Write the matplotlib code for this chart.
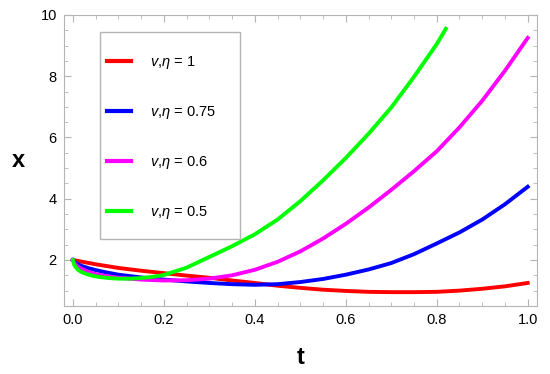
import numpy as np
import matplotlib.pyplot as plt
from matplotlib.ticker import MultipleLocator
from matplotlib.patches import Rectangle

plt.rcParams['font.family'] = ['Liberation Sans', 'DejaVu Sans']
plt.rcParams['mathtext.fontset'] = 'custom'
plt.rcParams['mathtext.it'] = 'Liberation Sans:italic'
plt.rcParams['mathtext.rm'] = 'Liberation Sans'

# valores
t_red = [0.0, 0.05, 0.1, 0.15, 0.2, 0.25, 0.3, 0.35, 0.4, 0.45, 0.5, 0.55, 0.6, 0.65, 0.7, 0.75, 0.8, 0.85, 0.9, 0.95, 1.0]
x_red = [2.0, 1.86, 1.74, 1.65, 1.57, 1.49, 1.42, 1.33, 1.25, 1.16, 1.09, 1.03, 0.99, 0.96, 0.95, 0.95, 0.96, 1.0, 1.06, 1.14, 1.25]

t_blue = [0.0, 0.005, 0.01, 0.02, 0.035, 0.05, 0.075, 0.1, 0.15, 0.2, 0.25, 0.3, 0.35, 0.4, 0.45, 0.5, 0.55, 0.6, 0.65, 0.7, 0.75, 0.8, 0.85, 0.9, 0.95, 1.0]
x_blue = [2.0, 1.92, 1.87, 1.8, 1.73, 1.67, 1.59, 1.52, 1.43, 1.36, 1.3, 1.25, 1.21, 1.19, 1.21, 1.28, 1.38, 1.52, 1.69, 1.9, 2.19, 2.54, 2.9, 3.32, 3.82, 4.39]

t_mag = [0.0, 0.005, 0.01, 0.02, 0.035, 0.05, 0.075, 0.1, 0.15, 0.2, 0.25, 0.3, 0.35, 0.4, 0.45, 0.5, 0.55, 0.6, 0.65, 0.7, 0.75, 0.8, 0.85, 0.9, 0.95, 1.0]
x_mag = [2.0, 1.86, 1.79, 1.7, 1.61, 1.54, 1.47, 1.42, 1.36, 1.33, 1.34, 1.39, 1.5, 1.68, 1.94, 2.28, 2.7, 3.18, 3.71, 4.29, 4.9, 5.55, 6.33, 7.2, 8.18, 9.25]

t_green = [0.0, 0.003, 0.007, 0.012, 0.02, 0.03, 0.045, 0.06, 0.08, 0.1, 0.125, 0.15, 0.175, 0.2, 0.25, 0.3, 0.35, 0.4, 0.45, 0.5, 0.55, 0.6, 0.65, 0.7, 0.75, 0.8, 0.82]
x_green = [2.0, 1.84, 1.75, 1.67, 1.6, 1.54, 1.48, 1.44, 1.41, 1.39, 1.39, 1.41, 1.45, 1.51, 1.75, 2.1, 2.45, 2.84, 3.32, 3.92, 4.6, 5.33, 6.12, 6.98, 7.98, 9.05, 9.55]

series = [
    (t_red, x_red, '#ff0000', r'$v$,$\eta$ = 1'),
    (t_blue, x_blue, '#0000ff', r'$v$,$\eta$ = 0.75'),
    (t_mag, x_mag, '#ff00ff', r'$v$,$\eta$ = 0.6'),
    (t_green, x_green, '#00ff00', r'$v$,$\eta$ = 0.5'),
]

fig = plt.figure(figsize=(5.5, 3.74), dpi=100)
ax = fig.add_axes([0.116, 0.182, 0.86, 0.778])

for t, x, c, lab in series:
    ax.plot(t, x, color=c, linewidth=2.8, label=lab)

ax.set_xlim(-0.02, 1.02)
ax.set_ylim(0.5, 10)
ax.set_xticks([0.0, 0.2, 0.4, 0.6, 0.8, 1.0])
ax.set_xticklabels(['0.0', '0.2', '0.4', '0.6', '0.8', '1.0'])
ax.xaxis.set_minor_locator(MultipleLocator(0.05))
ax.set_yticks([2, 4, 6, 8, 10])
ax.yaxis.set_minor_locator(MultipleLocator(0.5))

for s in ax.spines.values():
    s.set_color('#b4b4b4')
ax.tick_params(which='both', direction='in', top=True, right=True, color='#b4b4b4', labelsize=10.5, pad=5)
ax.tick_params(which='major', length=5)
ax.tick_params(which='minor', length=3)

ax.set_xlabel('t', fontsize=17, fontweight='bold', labelpad=14)
ax.set_ylabel('x', fontsize=17, fontweight='bold', labelpad=16, rotation=0, va='center')

# caixa da legenda
ax.add_patch(Rectangle((0.076, 0.23), 0.296, 0.712, transform=ax.transAxes,
                       facecolor='white', edgecolor='#b4b4b4', linewidth=1, zorder=4))
leg = ax.legend(loc='upper left', bbox_to_anchor=(0.078, 0.887), fontsize=10.5,
                labelspacing=2.27, handlelength=1.65, handletextpad=1.3,
                borderpad=0.4, borderaxespad=0, frameon=False)
leg.set_zorder(5)
for h in leg.get_lines():
    h.set_linewidth(3)

plt.savefig('out.png', dpi=100)
